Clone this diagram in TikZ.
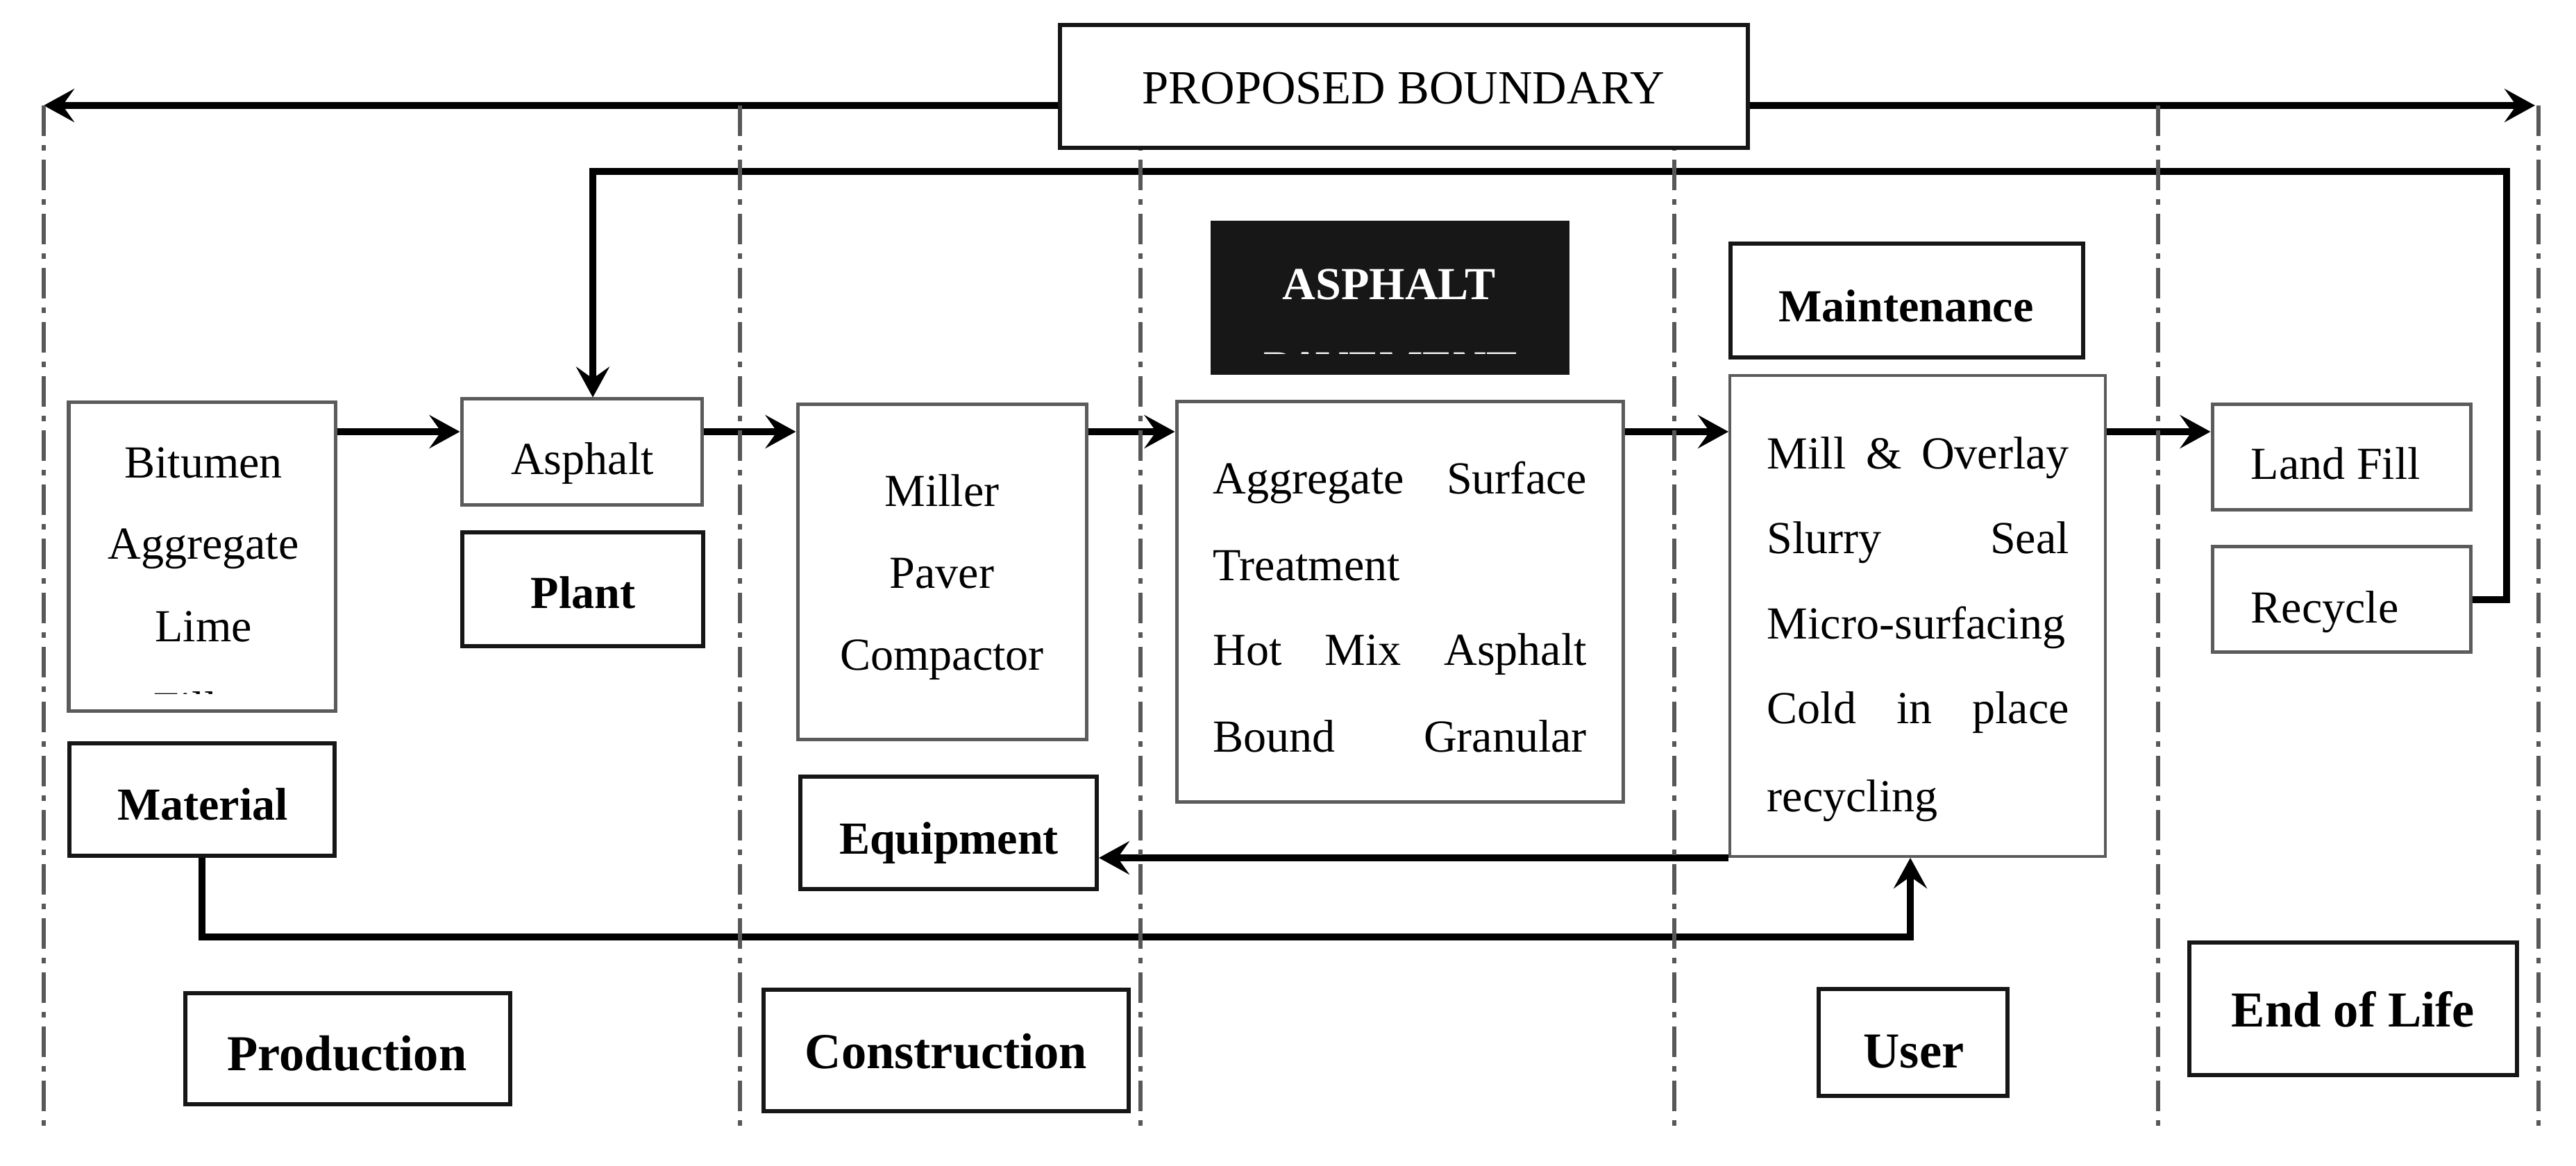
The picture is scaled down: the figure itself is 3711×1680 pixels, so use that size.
\documentclass[tikz,border=0pt]{standalone}
\usepackage{fontspec}
\setmainfont{Liberation Serif}
\usetikzlibrary{arrows.meta,fit}
\definecolor{boxgray}{HTML}{5B5B5B}
\definecolor{linegray}{HTML}{585858}
\definecolor{boxblack}{HTML}{161616}
\definecolor{asphblack}{HTML}{171717}
\pgfdeclarelayer{bg}
\pgfdeclarelayer{mid}
\pgfsetlayers{bg,mid,main}
\begin{document}
\begin{tikzpicture}[x=0.01cm,y=-0.01cm,
  graybox/.style={draw=boxgray,line width=0.05cm,fill=white,inner sep=0pt},
  blackbox/.style={draw=boxblack,line width=0.06cm,fill=white,inner sep=0pt},
  txt/.style={inner sep=0pt,font=\fontsize{18.8}{22}\selectfont},
  btxt/.style={inner sep=0pt,font=\fontsize{18.8}{22}\selectfont\bfseries},
  bigtxt/.style={inner sep=0pt,font=\fontsize{20.6}{24}\selectfont\bfseries},
  conn/.style={draw=black,line width=0.1cm},
  tip/.style={-{Stealth[length=0.44cm,width=0.48cm,inset=0.17cm]}},
  divider/.style={draw=linegray,line width=0.055cm,dash pattern=on 0.44cm off 0.13cm on 0.08cm off 0.13cm}]

\useasboundingbox (0,0) rectangle (3711,1680);

% ---- boxes ----
\node[blackbox,line width=0.055cm,fit={(1527,36) (2518,213)}] (pb) {};
\node[txt,font=\fontsize{19.5}{22}\selectfont,anchor=base] (pbt) at (2022,150) {PROPOSED BOUNDARY};

\node[graybox,fit={(99,580) (483,1025)}] (bit) {};
\node[txt,anchor=base] (bit1) at (293,689) {Bitumen};
\node[txt,anchor=base] (bit2) at (293,806) {Aggregate};
\node[txt,anchor=base] (bit3) at (293,925) {Lime};
\begin{scope}
  \clip (102,583) rectangle (480,999.5);
  \node[txt,anchor=base] (bit4) at (293,1043) {Filler};
\end{scope}

\node[graybox,fit={(665,575) (1011,728)}] (asp) {};
\node[txt,anchor=base] (aspt) at (839,684) {Asphalt};

\node[blackbox,fit={(666,767) (1013,931)}] (plant) {};
\node[btxt,anchor=base] (plantt) at (840,877) {Plant};

\node[blackbox,fit={(100,1071) (482,1233)}] (mat) {};
\node[btxt,anchor=base] (matt) at (292,1182) {Material};

\node[blackbox,fit={(267,1431) (735,1591)}] (prod) {};
\node[bigtxt,anchor=base] (prodt) at (500,1543) {Production};

\node[graybox,fit={(1149,583) (1565,1066)}] (mill) {};
\node[txt,anchor=base] (mill1) at (1357,730) {Miller};
\node[txt,anchor=base] (mill2) at (1357,848) {Paver};
\node[txt,anchor=base] (mill3) at (1357,966) {Compactor};

\node[blackbox,fit={(1153,1119) (1580,1281)}] (equip) {};
\node[btxt,anchor=base] (equipt) at (1367,1231) {Equipment};

\node[blackbox,fit={(1100,1426) (1626,1601)}] (cons) {};
\node[bigtxt,anchor=base] (const) at (1363,1540) {Construction};

\node[fill=asphblack,inner sep=0pt,fit={(1744,318) (2261,540)}] (pav) {};
\node[btxt,text=white,anchor=base] (pavt1) at (2001,432) {ASPHALT};
\begin{scope}
  \clip (1744,318) rectangle (2261,510);
  \node[btxt,text=white,anchor=base] (pavt2) at (2003,552) {PAVEMENT};
\end{scope}

\node[graybox,fit={(1695,579) (2338,1156)}] (surf) {};
\node[txt,anchor=base west] (surf1) at (1747,712) {\makebox[5.38cm][s]{Aggregate Surface}};
\node[txt,anchor=base west] (surf2) at (1747,837) {Treatment};
\node[txt,anchor=base west] (surf3) at (1747,959) {\makebox[5.38cm][s]{Hot Mix Asphalt}};
\node[txt,anchor=base west] (surf4) at (1747,1084) {\makebox[5.38cm][s]{Bound Granular}};

\node[blackbox,fit={(2493,351) (3001,515)}] (maint) {};
\node[btxt,anchor=base] (maintt) at (2746,464) {Maintenance};

\node[graybox,line width=0.04cm,fit={(2492,541) (3033,1234)}] (utb) {};
\node[txt,anchor=base west] (u1) at (2545,676) {\makebox[4.35cm][s]{Mill \& Overlay}};
\node[txt,anchor=base west] (u2) at (2545,798) {\makebox[4.35cm][s]{Slurry Seal}};
\node[txt,anchor=base west] (u3) at (2545,921) {Micro-surfacing};
\node[txt,anchor=base west] (u4) at (2545,1043) {\makebox[4.35cm][s]{Cold in place}};
\node[txt,anchor=base west] (u5) at (2545,1170) {recycling};

\node[blackbox,fit={(2620,1425) (2892,1579)}] (user) {};
\node[bigtxt,anchor=base] (usert) at (2757,1538) {User};

\node[graybox,fit={(3187,583) (3559,735)}] (land) {};
\node[txt,anchor=base west] (landt) at (3242,691) {Land Fill};

\node[graybox,fit={(3187,788) (3559,940)}] (rec) {};
\node[txt,anchor=base west] (rect) at (3242,898) {Recycle};

\node[blackbox,fit={(3154,1358) (3626,1549)}] (eol) {};
\node[bigtxt,anchor=base] (eolt) at (3390,1480) {End of Life};

% ---- helper coordinates ----
\coordinate (bl) at (63,152);
\coordinate (br) at (3652,152);
\coordinate (flow) at (0,622);
\coordinate (fbR) at (3611,247);
\coordinate (fbL) at (854,247);
\coordinate (matB) at (291,1350);
\coordinate (utbB) at (2752,1350);

% ---- connectors ----
\begin{pgfonlayer}{bg}
  \draw[conn,{Stealth[length=0.44cm,width=0.48cm,inset=0.17cm]}-{Stealth[length=0.44cm,width=0.48cm,inset=0.17cm]}] (bl) -- (br);
  \draw[conn,tip] (rec.east) -| (fbR) -- (fbL) -- (fbL |- asp.north);
  \draw[conn,tip] (bit.east |- flow) -- (asp.west |- flow);
  \draw[conn,tip] (asp.east |- flow) -- (mill.west |- flow);
  \draw[conn,tip] (mill.east |- flow) -- (surf.west |- flow);
  \draw[conn,tip] (surf.east |- flow) -- (utb.west |- flow);
  \draw[conn,tip] (utb.east |- flow) -- (land.west |- flow);
  \draw[conn,tip] (utb.south west) -- (equip.east |- utb.south west);
  \draw[conn,tip] (mat.south) -- (matB) -- (utbB) -- (utbB |- utb.south);
\end{pgfonlayer}

% ---- phase dividers ----
\begin{pgfonlayer}{mid}
  \foreach \xx in {63,1066,1643,2412,3109,3657}
    \draw[divider] (\xx,152) -- (\xx,1625);
\end{pgfonlayer}
\end{tikzpicture}
\end{document}
